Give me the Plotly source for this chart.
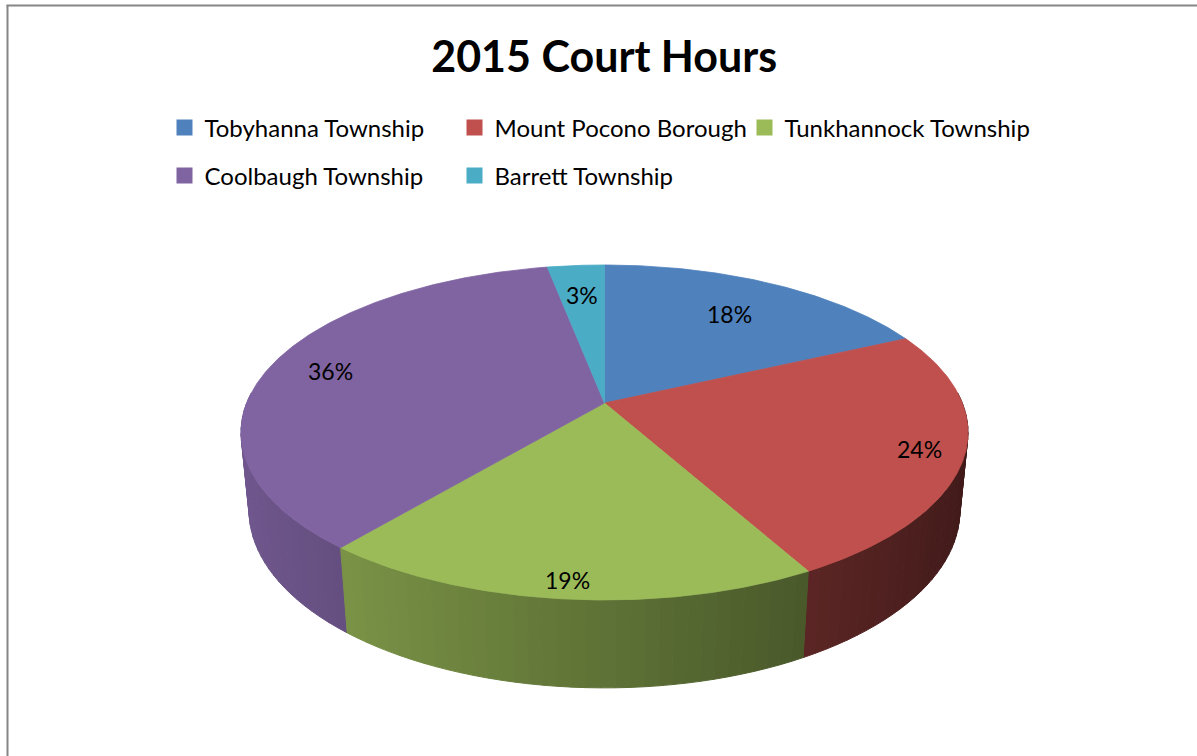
import numpy as np
import plotly.graph_objects as go

# ---- data ----
title = "2015 Court Hours"
townships = ["Tobyhanna Township", "Mount Pocono Borough", "Tunkhannock Township",
             "Coolbaugh Township", "Barrett Township"]
shares = [18, 24, 19, 36, 3]
labels = ["18%", "24%", "19%", "36%", "3%"]
colors = ["#4F81BD", "#C0504D", "#9BBB59", "#8064A2", "#4BACC6"]
label_radius = [0.72, 0.88, 0.92, 0.82, 0.76]

# ---- geometry of the 3D pie (perspective projection of a tilted disk) ----
W, H = 1197, 756
CX, CY = 604.5, 403
F = 1811.6
DIST = 5.063
SA, CA = 0.4536, 0.891
THICK = 0.247
FONT = "Lato"


def proj(px, py, pz):
    depth = DIST + py * CA - pz * SA
    up = py * SA + pz * CA
    return CX + F * px / depth, CY - F * up / depth


def hex_to_rgb(h):
    h = h.lstrip("#")
    return [int(h[i:i + 2], 16) for i in (0, 2, 4)]


def shade(hexc, f):
    r, g, b = hex_to_rgb(hexc)
    return "rgb(%d,%d,%d)" % (min(255, r * f), min(255, g * f), min(255, b * f))


total = float(sum(shares))
bounds = np.concatenate([[0], np.cumsum(shares)]) / total * 2 * np.pi

fig = go.Figure()

# side walls (drawn far to near)
segs = []
for i, c in enumerate(colors):
    a0, a1 = bounds[i], bounds[i + 1]
    n = max(2, int(np.ceil((a1 - a0) / np.radians(2))))
    th = np.linspace(a0, a1, n + 1)
    for j in range(n):
        ta, tb = th[j], th[j + 1]
        tm = 0.5 * (ta + tb)
        if np.cos(tm) > 0.05:
            continue
        arc = np.linspace(ta, tb, 4)
        top = [proj(np.sin(t), np.cos(t), 0.0) for t in arc]
        bot = [proj(np.sin(t), np.cos(t), -THICK) for t in arc[::-1]]
        pts = top + bot + [top[0]]
        f = 0.61 - 0.28 * np.sin(tm)
        segs.append((np.cos(tm), [p[0] for p in pts], [p[1] for p in pts], shade(c, f)))

segs.sort(key=lambda s: -s[0])
for _, xs, ys, col in segs:
    fig.add_trace(go.Scatter(x=xs, y=ys, mode="lines", fill="toself", fillcolor=col,
                             line=dict(color=col, width=1), hoverinfo="skip",
                             showlegend=False))

# top faces
for i, c in enumerate(colors):
    a0, a1 = bounds[i], bounds[i + 1]
    th = np.linspace(a0, a1, max(3, int(np.degrees(a1 - a0) * 2)))
    pts = [proj(0, 0, 0)] + [proj(np.sin(t), np.cos(t), 0.0) for t in th] + [proj(0, 0, 0)]
    fig.add_trace(go.Scatter(x=[p[0] for p in pts], y=[p[1] for p in pts], mode="lines",
                             fill="toself", fillcolor=c, line=dict(color=c, width=0.8),
                             hoverinfo="skip", showlegend=False))

# percentage labels
for i, lab in enumerate(labels):
    tm = 0.5 * (bounds[i] + bounds[i + 1])
    r = label_radius[i]
    lx, ly = proj(r * np.sin(tm), r * np.cos(tm), 0.0)
    fig.add_annotation(x=lx, y=ly, xref="x", yref="y", text=lab, showarrow=False,
                       font=dict(family=FONT, size=23, color="#000000"),
                       xanchor="center", yanchor="middle")

# legend entries
for i, (name, c) in enumerate(zip(townships, colors)):
    fig.add_trace(go.Scatter(x=[None], y=[None], mode="markers", name=name,
                             marker=dict(symbol="square", size=16, color=c),
                             legend="legend" if i < 3 else "legend2"))

leg_common = dict(orientation="h", xanchor="left", yanchor="middle",
                  entrywidth=245, entrywidthmode="pixels",
                  font=dict(family=FONT, size=24, color="#000000"),
                  bgcolor="rgba(0,0,0,0)", borderwidth=0)

fig.update_layout(
    width=W, height=H,
    margin=dict(l=0, r=0, t=0, b=0),
    paper_bgcolor="white", plot_bgcolor="white",
    title=dict(text="<b>" + title + "</b>", x=604.2 / W, xanchor="center",
               y=1 - 57 / H, yanchor="middle", yref="container",
               font=dict(family=FONT, size=43, color="#000000")),
    xaxis=dict(range=[0, W], visible=False, fixedrange=True),
    yaxis=dict(range=[H, 0], visible=False, fixedrange=True),
    legend=dict(x=164.5 / W, y=1 - 128 / H, **leg_common),
    legend2=dict(x=164.5 / W, y=1 - 176 / H, **leg_common),
    shapes=[
        dict(type="line", xref="paper", yref="paper", x0=7.5 / W, x1=7.5 / W,
             y0=0, y1=1 - 5 / H, line=dict(color="#868686", width=2)),
        dict(type="line", xref="paper", yref="paper", x0=6.5 / W, x1=1,
             y0=1 - 5.5 / H, y1=1 - 5.5 / H, line=dict(color="#868686", width=2)),
    ],
)

fig.write_html("out.html", config={"displayModeBar": False},
               post_script="document.body.style.margin='0';document.body.style.padding='0';")
